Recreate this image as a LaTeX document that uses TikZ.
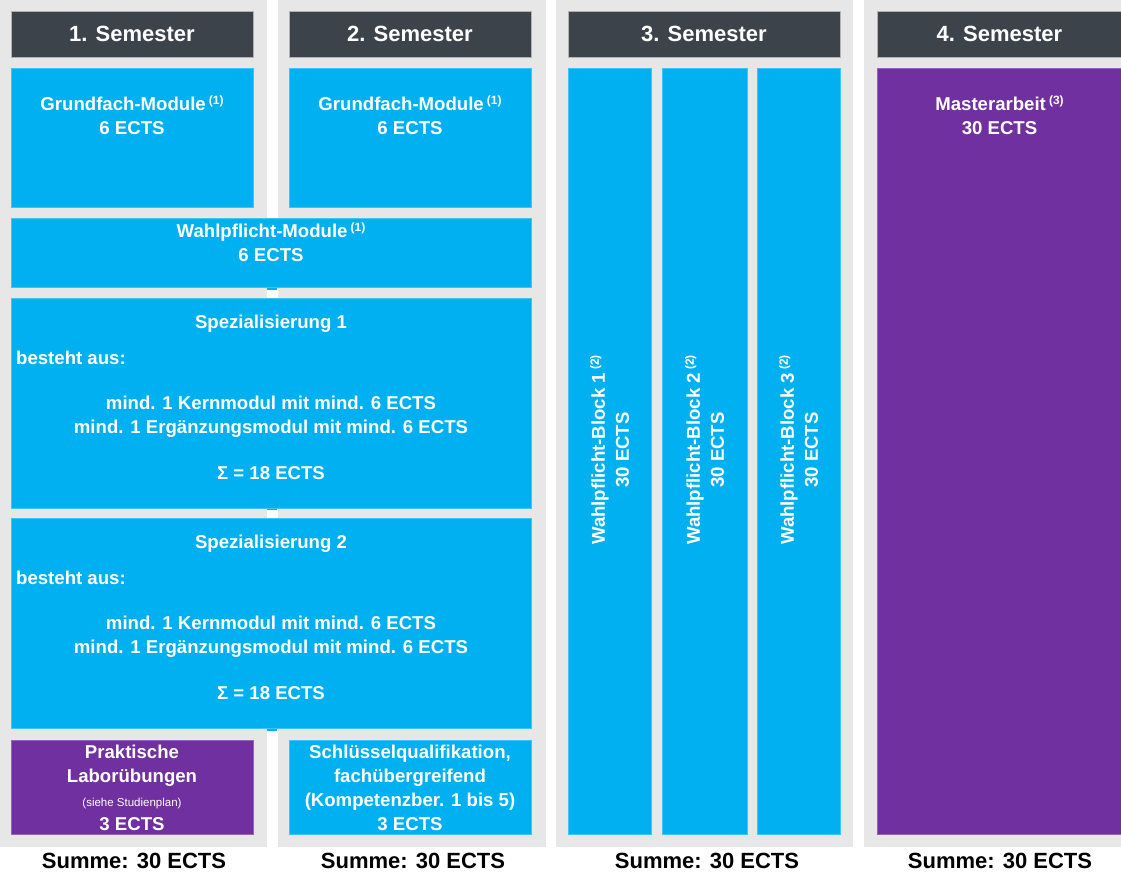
\documentclass[tikz,border=0pt]{standalone}
\usepackage{fontspec}
\setmainfont{Liberation Sans}
\definecolor{bg}{HTML}{E7E7E7}
\definecolor{hdr}{HTML}{3D434B}
\definecolor{cyanb}{HTML}{00B0F0}
\definecolor{purp}{HTML}{7030A0}
\newcommand{\supr}[1]{\,{\fontsize{12}{12}\selectfont\raisebox{6pt}{#1}}}
\tikzset{
  hdrbox/.style={fill=hdr, draw=gray!60, line width=0.6pt, anchor=north west, inner sep=0pt, outer sep=0pt,
                 text=white, font=\fontsize{22}{26}\selectfont\bfseries},
  bluebox/.style={fill=cyanb, draw=cyanb!75!white, line width=0.6pt, anchor=north west, inner sep=0pt, outer sep=0pt},
  purpbox/.style={fill=purp, draw=purp!75!white, line width=0.6pt, anchor=north west, inner sep=0pt, outer sep=0pt},
  btxt/.style={text=white, font=\fontsize{18.6}{24}\selectfont\bfseries, align=center, inner sep=0pt},
  sumtxt/.style={text=black, font=\fontsize{22}{26}\selectfont\bfseries, inner sep=0pt},
}
\begin{document}
\begin{tikzpicture}[x=1pt,y=-1pt]
\useasboundingbox (0,0) rectangle (1121,877);
\fill[white] (0,0) rectangle (1121,877);
% gray columns
\fill[bg] (0,0) rectangle (267,847);
\fill[bg] (278,0) rectangle (546,847);
\fill[bg] (556,0) rectangle (853,847);
\fill[bg] (864,0) rectangle (1121,847);
% headers
\node[hdrbox, minimum width=242pt, minimum height=46pt] (h1) at (11,11) {1. Semester};
\node[hdrbox, minimum width=242pt, minimum height=46pt] (h2) at (289,11) {2. Semester};
\node[hdrbox, minimum width=272pt, minimum height=46pt] (h3) at (568,11) {3. Semester};
\node[hdrbox, minimum width=245pt, minimum height=46pt] (h4) at (877,11) {4. Semester};
% small tabs in the gap
\fill[cyanb] (267,286) rectangle (277,290);
\fill[cyanb] (267,506) rectangle (277,510);
\fill[cyanb] (267,727) rectangle (277,731);
% semester 1 and 2 boxes
\node[bluebox, minimum width=242pt, minimum height=139pt] (g1) at (11,68) {};
\node[bluebox, minimum width=242pt, minimum height=139pt] (g2) at (289,68) {};
\node[bluebox, minimum width=520pt, minimum height=69pt] (wm) at (11,218) {};
\node[bluebox, minimum width=520pt, minimum height=210pt] (s1) at (11,298) {};
\node[bluebox, minimum width=520pt, minimum height=210pt] (s2) at (11,518) {};
\node[purpbox, minimum width=242pt, minimum height=94pt] (pl) at (11,740) {};
\node[bluebox, minimum width=242pt, minimum height=94pt] (sq) at (289,740) {};
% semester 3 and 4 boxes
\node[bluebox, minimum width=83pt, minimum height=766pt] (b1) at (568,68) {};
\node[bluebox, minimum width=85pt, minimum height=766pt] (b2) at (662,68) {};
\node[bluebox, minimum width=83pt, minimum height=766pt] (b3) at (757,68) {};
\node[purpbox, minimum width=245pt, minimum height=766pt] (ma) at (877,68) {};
% texts
\node[btxt] (g1t) at ([yshift=-47pt]g1.north) {Grundfach-Module\supr{(1)}\\6 ECTS};
\node[btxt] (g2t) at ([yshift=-47pt]g2.north) {Grundfach-Module\supr{(1)}\\6 ECTS};
\node[btxt] (wmt) at ([yshift=-24.5pt]wm.north) {Wahlpflicht-Module\supr{(1)}\\6 ECTS};
\node[btxt] (s1a) at ([yshift=-26pt]s1.north) {Spezialisierung 1};
\node[btxt, anchor=west] (s1b) at ([xshift=5pt,yshift=-60pt]s1.north west) {besteht aus:};
\node[btxt] (s1c) at ([yshift=-119pt]s1.north) {mind. 1 Kernmodul mit mind. 6 ECTS\\mind. 1 Ergänzungsmodul mit mind. 6 ECTS};
\node[btxt] (s1d) at ([yshift=-175pt]s1.north) {Σ = 18 ECTS};
\node[btxt] (s2a) at ([yshift=-26pt]s2.north) {Spezialisierung 2};
\node[btxt, anchor=west] (s2b) at ([xshift=5pt,yshift=-60pt]s2.north west) {besteht aus:};
\node[btxt] (s2c) at ([yshift=-119pt]s2.north) {mind. 1 Kernmodul mit mind. 6 ECTS\\mind. 1 Ergänzungsmodul mit mind. 6 ECTS};
\node[btxt] (s2d) at ([yshift=-175pt]s2.north) {Σ = 18 ECTS};
\node[btxt] (plt) at ([yshift=-47.5pt]pl.north) {Praktische\\Laborübungen\\{\fontsize{11.5}{24}\selectfont\mdseries (siehe Studienplan)}\\3 ECTS};
\node[btxt] (sqt) at ([yshift=-47.5pt]sq.north) {Schlüsselqualifikation,\\fachübergreifend\\(Kompetenzber. 1 bis 5)\\3 ECTS};
\node[btxt, rotate=90] (b1t) at ([yshift=1pt]b1.center) {Wahlpflicht-Block 1\supr{(2)}\\30 ECTS};
\node[btxt, rotate=90] (b2t) at ([yshift=1pt]b2.center) {Wahlpflicht-Block 2\supr{(2)}\\30 ECTS};
\node[btxt, rotate=90] (b3t) at ([yshift=1pt]b3.center) {Wahlpflicht-Block 3\supr{(2)}\\30 ECTS};
\node[btxt] (mat) at ([yshift=-47pt]ma.north) {Masterarbeit\supr{(3)}\\30 ECTS};
% sums
\node[sumtxt] (sum1) at (134,861) {Summe: 30 ECTS};
\node[sumtxt] (sum2) at (413,861) {Summe: 30 ECTS};
\node[sumtxt] (sum3) at (707,861) {Summe: 30 ECTS};
\node[sumtxt] (sum4) at (1000,861) {Summe: 30 ECTS};
\end{tikzpicture}
\end{document}
